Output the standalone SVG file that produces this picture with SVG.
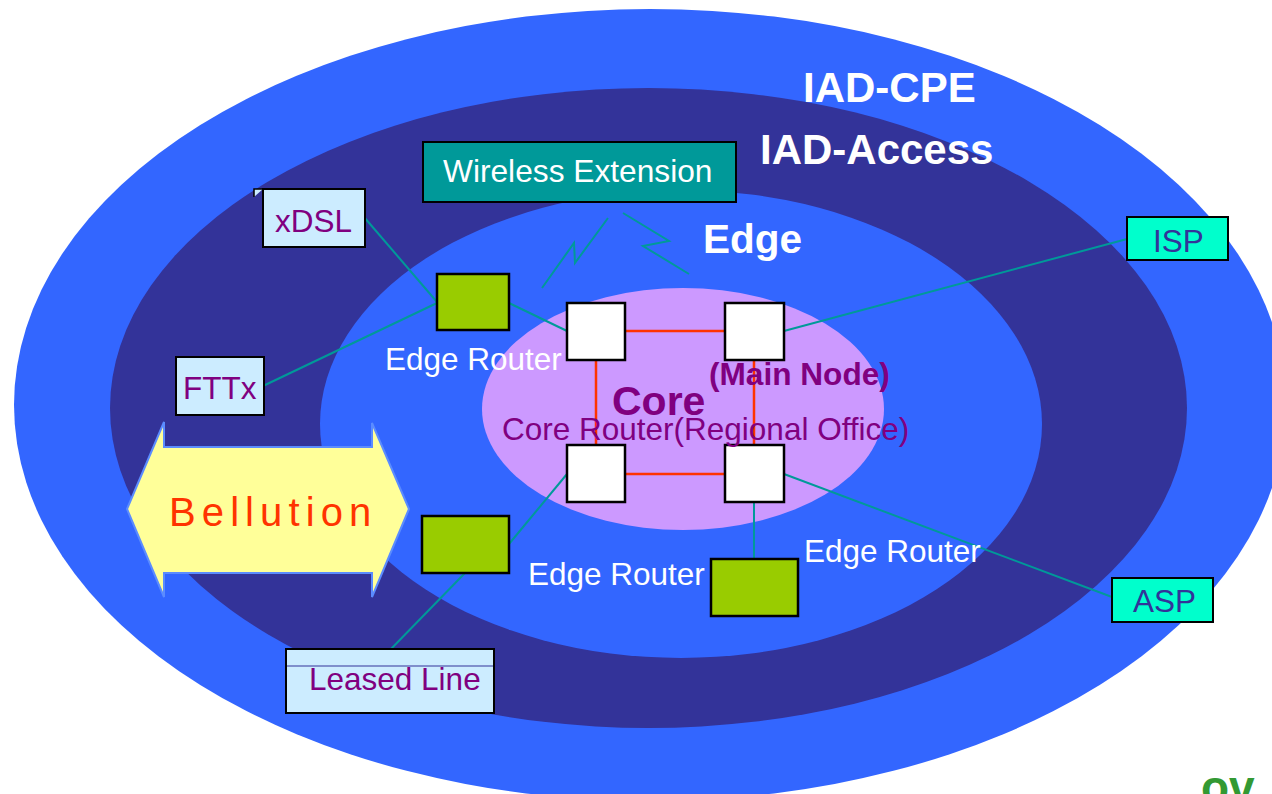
<svg xmlns="http://www.w3.org/2000/svg" width="1272" height="794" viewBox="0 0 1272 794">
<style>
.t{font-family:"Liberation Sans",Arial,sans-serif}
.w{fill:#FFFFFF}
.b{font-weight:bold}
.p{fill:#800080}
.lbl{font-size:31.5px}
.box{fill:#CCECFF;stroke:#000;stroke-width:2}
.cyan{fill:#00FFCC;stroke:#000;stroke-width:2}
.er{fill:#99CC00;stroke:#000;stroke-width:2.5}
.cr{fill:#FFFFFF;stroke:#000;stroke-width:2.5}
.tl{stroke:#009999;stroke-width:2;fill:none}
.rl{stroke:#FF3300;stroke-width:2.5;fill:none}
</style>
<rect width="1272" height="794" fill="#FFFFFF"/>
<g id="rings">
<ellipse id="ring-cpe" cx="650" cy="405" rx="636" ry="396" fill="#3366FF"/>
<ellipse id="ring-access" cx="648.5" cy="408" rx="538.5" ry="320" fill="#333399"/>
<ellipse id="ring-edge" cx="681" cy="424" rx="361" ry="234" fill="#3366FF"/>
<ellipse id="ring-core" cx="683" cy="409" rx="201" ry="121" fill="#CC99FF"/>
</g>
<g id="ring-labels">
<text class="t w b" x="803" y="102" font-size="42">IAD-CPE</text>
<text class="t w b" x="760" y="164" font-size="42">IAD-Access</text>
<text class="t w b" x="703" y="253" font-size="40.5">Edge</text>
</g>
<g id="bellution">
<polygon points="127,509 164,422 164,447 372,447 372,423 409,509 372,597 372,573 164,573 164,597" fill="#FFFF99" stroke="#5B8CFF" stroke-width="2"/>
<text class="t" x="169" y="526" font-size="40" fill="#FF3300" letter-spacing="6.1">Bellution</text>
</g>
<g id="connectors">
<line class="rl" x1="625" y1="331" x2="725" y2="331" stroke-width="3"/>
<line class="rl" x1="625" y1="474" x2="725" y2="474"/>
<line class="rl" x1="596" y1="360" x2="596" y2="445"/>
<line class="rl" x1="754" y1="360" x2="754" y2="445"/>
<line class="tl" x1="364" y1="217" x2="437" y2="302"/>
<line class="tl" x1="263" y1="386" x2="437" y2="303"/>
<line class="tl" x1="509" y1="303" x2="567" y2="331"/>
<line class="tl" x1="784" y1="331" x2="1127" y2="239"/>
<line class="tl" x1="784" y1="474" x2="1120" y2="600"/>
<line class="tl" x1="754" y1="502" x2="754" y2="559" stroke-width="3"/>
<line class="tl" x1="567" y1="474" x2="509" y2="544"/>
<line class="tl" x1="465" y1="573" x2="390" y2="650"/>
<polyline class="tl" points="542,288 574,243 575,263 608,218" stroke-width="2.5"/>
<polyline class="tl" points="623,213 669,241 643,246 689,274" stroke-width="2.5"/>
</g>
<g id="wireless">
<rect x="423" y="142" width="313" height="60" fill="#009999" stroke="#000" stroke-width="2"/>
<text class="t w" x="443" y="182" font-size="31.7">Wireless Extension</text>
</g>
<g id="xdsl">
<path d="M254,197 L254,189 L263,189" fill="#CCECFF" stroke="#000" stroke-width="1.5"/>
<rect class="box" x="263" y="189" width="102" height="58"/>
<text class="t p lbl" x="275" y="232">xDSL</text>
</g>
<g id="fttx">
<rect class="box" x="176" y="357" width="88" height="58"/>
<text class="t p lbl" x="183" y="399">FTTx</text>
</g>
<g id="leased">
<rect class="box" x="286" y="649" width="208" height="64"/>
<line x1="287" y1="666" x2="493" y2="666" stroke="#333399" stroke-width="1.2"/>
<text class="t p lbl" x="309" y="690">Leased Line</text>
</g>
<g id="isp">
<rect class="cyan" x="1127" y="217" width="101" height="43"/>
<text class="t lbl" x="1153" y="252" fill="#333399">ISP</text>
</g>
<g id="asp">
<rect class="cyan" x="1112" y="578" width="101" height="44"/>
<text class="t lbl" x="1133" y="612" fill="#333399">ASP</text>
</g>
<g id="edge-router-1">
<rect class="er" x="437" y="274" width="72" height="56"/>
<text class="t w lbl" x="385" y="370">Edge Router</text>
</g>
<g id="edge-router-2">
<rect class="er" x="422" y="516" width="87" height="57"/>
<text class="t w lbl" x="528" y="585">Edge Router</text>
</g>
<g id="edge-router-3">
<rect class="er" x="711" y="559" width="87" height="57"/>
<text class="t w lbl" x="804" y="562">Edge Router</text>
</g>
<g id="core-tl"><rect class="cr" x="567" y="303" width="58" height="57"/></g>
<g id="core-tr"><rect class="cr" x="725" y="303" width="59" height="57"/></g>
<g id="core-bl"><rect class="cr" x="567" y="445" width="58" height="57"/></g>
<g id="core-br"><rect class="cr" x="725" y="445" width="59" height="57"/></g>
<g id="core-labels">
<text class="t p b" x="612" y="415" font-size="41">Core</text>
<text class="t p b" x="709" y="385" font-size="31.6">(Main Node)</text>
<text class="t p lbl" x="502" y="440">Core Router(Regional Office)</text>
</g>
<text class="t b" x="1201" y="803" font-size="46" fill="#339933">ov</text>
</svg>
